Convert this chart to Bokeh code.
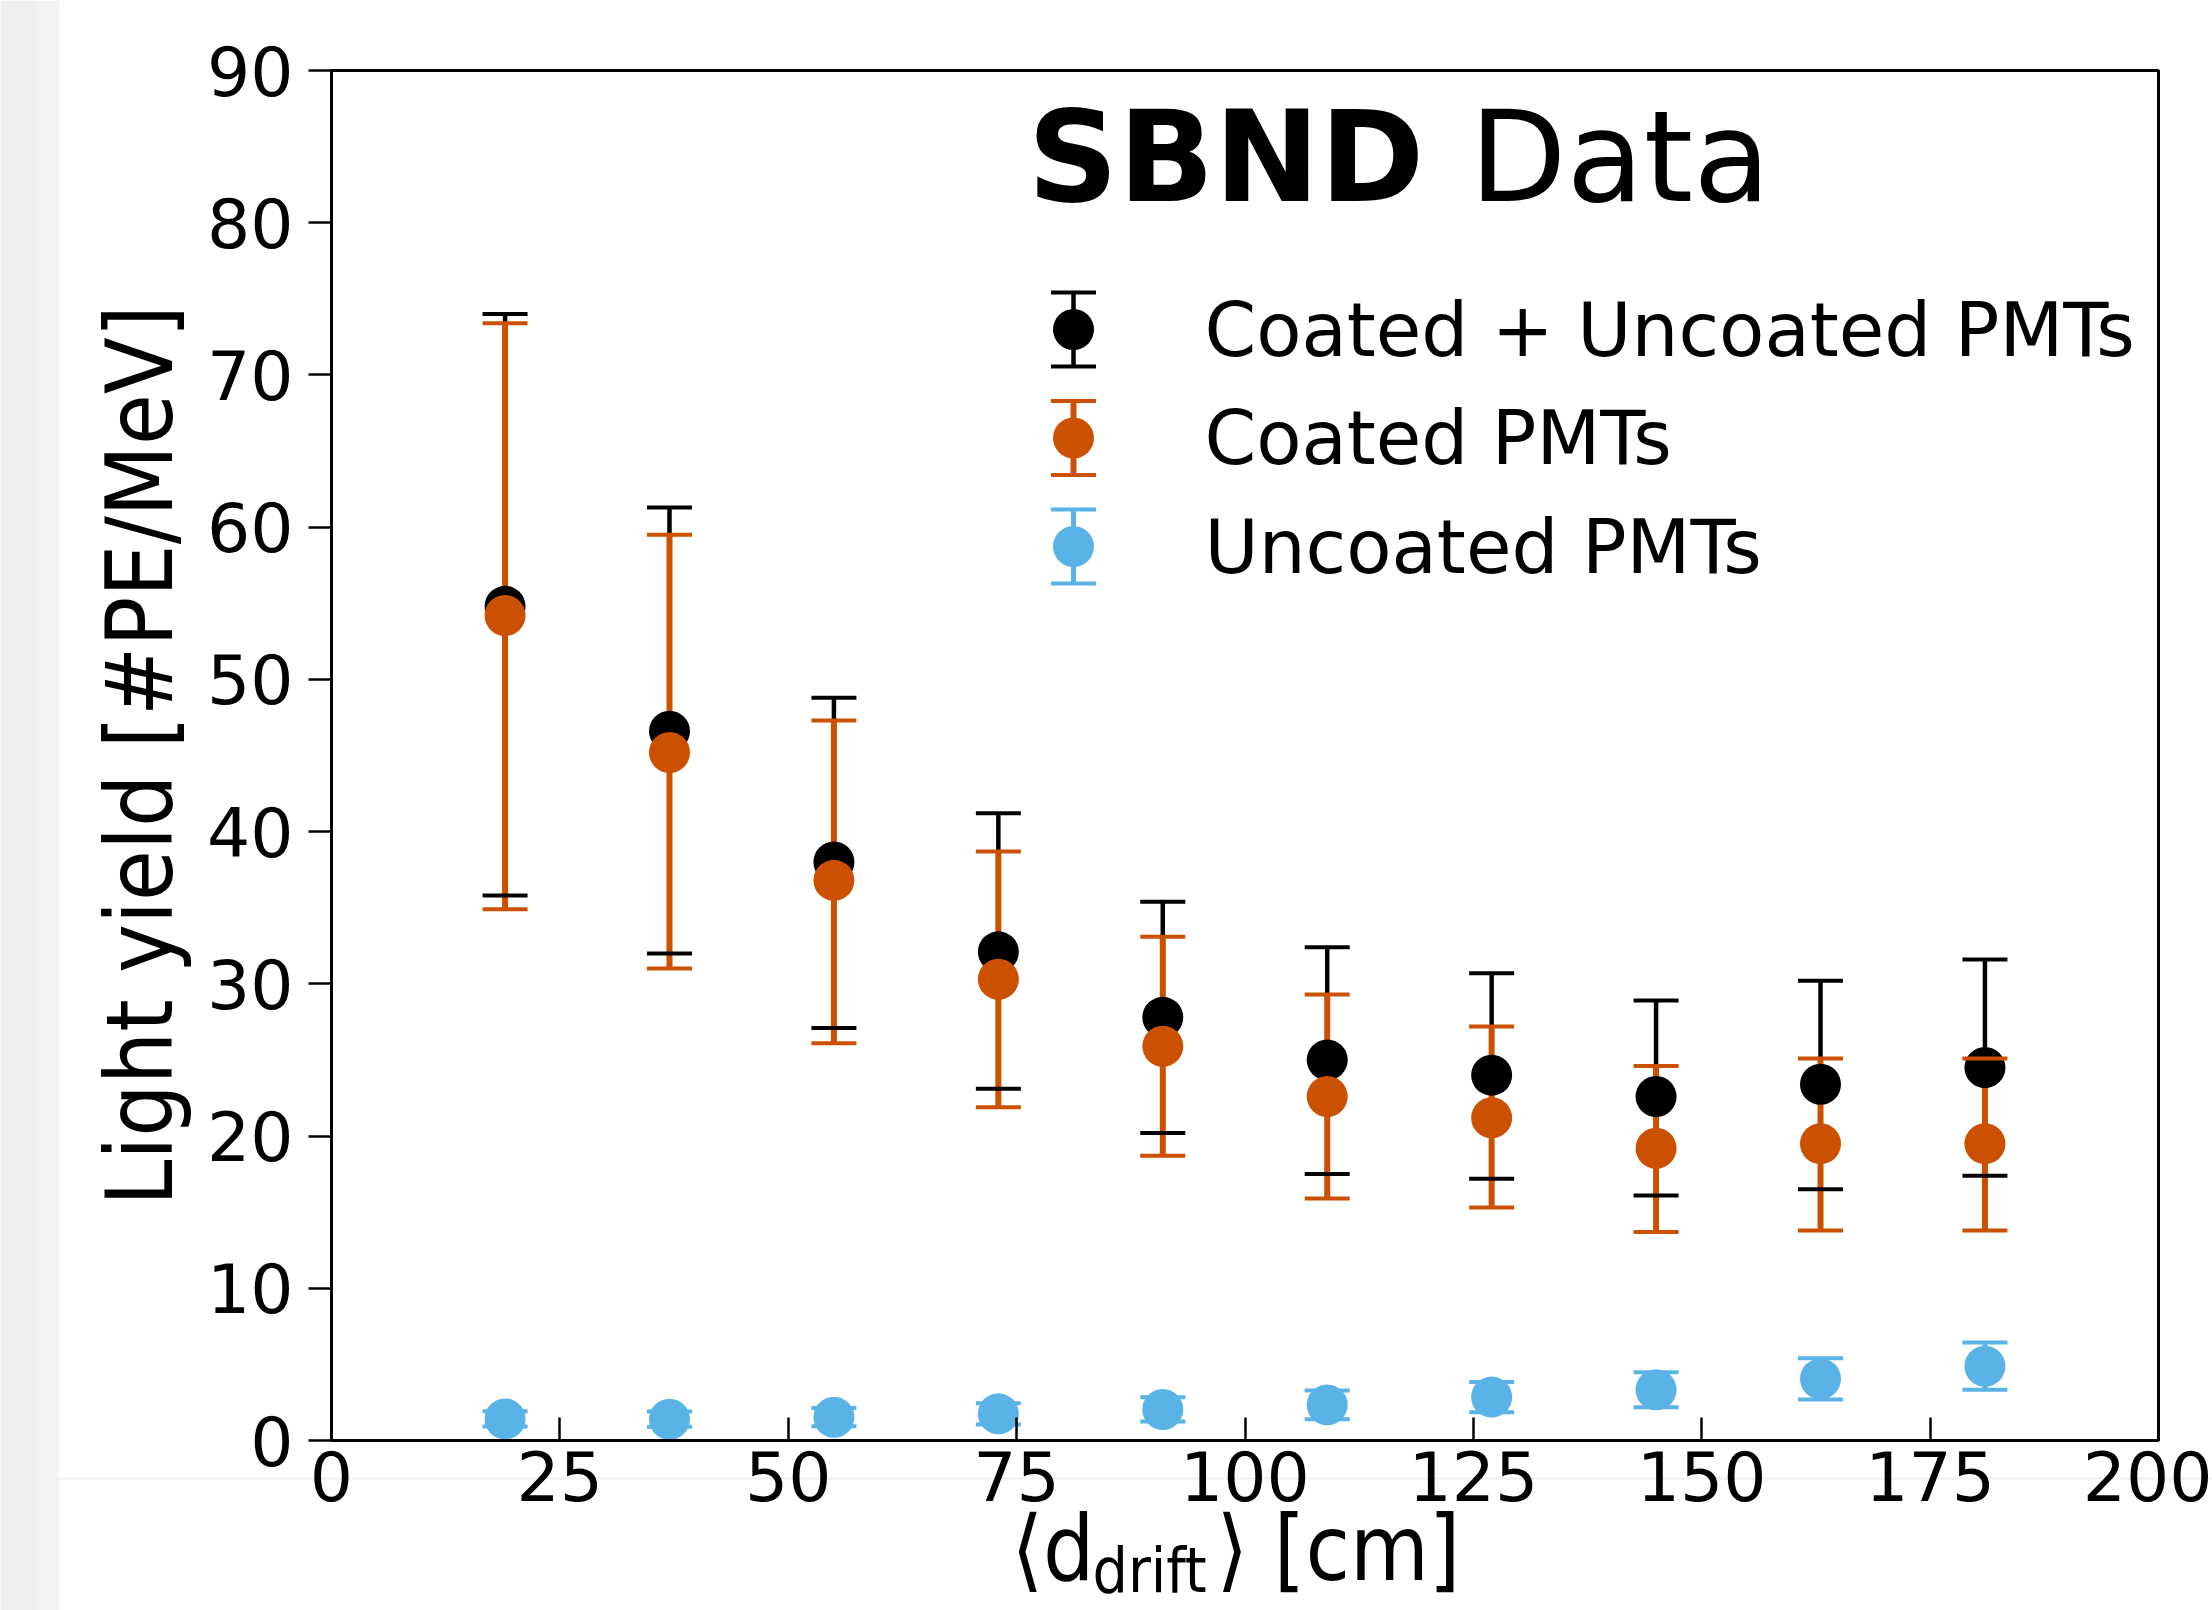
from bokeh.plotting import figure
from bokeh.models import Range1d, Label, BoxAnnotation, FixedTicker, ColumnDataSource
from bokeh.embed import file_html
from bokeh.resources import INLINE

# ---------------- data ----------------
drift_cm = [19, 37, 55, 73, 91, 109, 127, 145, 163, 181]

all_ly = [54.8, 46.6, 38.0, 32.1, 27.8, 25.0, 24.0, 22.6, 23.4, 24.5]
all_hi = [74.0, 61.3, 48.8, 41.2, 35.4, 32.4, 30.7, 28.9, 30.2, 31.6]
all_lo = [35.8, 32.0, 27.1, 23.1, 20.2, 17.5, 17.2, 16.1, 16.5, 17.4]

coated_ly = [54.2, 45.2, 36.8, 30.3, 25.9, 22.6, 21.2, 19.2, 19.5, 19.5]
coated_hi = [73.4, 59.5, 47.3, 38.7, 33.1, 29.3, 27.2, 24.6, 25.1, 25.1]
coated_lo = [34.9, 31.0, 26.1, 21.9, 18.7, 15.9, 15.3, 13.7, 13.8, 13.8]

uncoated_ly = [1.42, 1.40, 1.53, 1.75, 2.04, 2.34, 2.85, 3.33, 4.05, 4.88]
uncoated_err = [0.5, 0.5, 0.6, 0.7, 0.8, 0.95, 1.0, 1.15, 1.35, 1.55]

legend_labels = ["Coated + Uncoated PMTs", "Coated PMTs", "Uncoated PMTs"]
x_ticks = [0, 25, 50, 75, 100, 125, 150, 175, 200]
y_ticks = [0, 10, 20, 30, 40, 50, 60, 70, 80, 90]
X_MIN, X_MAX = 0, 200
Y_MIN, Y_MAX = 0, 90

# ---------------- layout / styles ----------------
BLACK = "#000000"
ORANGE = "#CB5000"
BLUE = "#5AB3E6"
FONT = "DejaVu Sans"
COND = "DejaVu Sans Condensed"

W, H = 2212, 1610
FL, FR, FT, FB = 331, 2158, 70, 1440   # plot box edges in page px
BASE_SHIFT = 0.38                      # svg alphabetic-baseline correction (em)

def px2x(px):
    return X_MIN + (px - FL) / (FR - FL) * (X_MAX - X_MIN)

def py2y(py):
    return Y_MIN + (FB - py) / (FB - FT) * (Y_MAX - Y_MIN)

p = figure(width=W, height=H, output_backend="svg", toolbar_location=None,
           x_range=Range1d(px2x(0), px2x(W)), y_range=Range1d(py2y(H), py2y(0)),
           min_border_left=0, min_border_right=0, min_border_top=0, min_border_bottom=0)
p.background_fill_color = "white"
p.border_fill_color = "white"
p.grid.visible = False
p.outline_line_color = None

# page decorations (grey strip at the left, faint line near the bottom)
def page_box(l, r, t, b, color):
    p.add_layout(BoxAnnotation(left=px2x(l), right=px2x(r), top=py2y(t), bottom=py2y(b),
                               fill_color=color, fill_alpha=1, line_alpha=0, level="underlay"))

page_box(0, 59, 0, H, "#f3f3f3")
page_box(0, 36, 0, H, "#efefef")
page_box(59, W, 1477, 1479, "#f0f0f0")

# plot box
p.add_layout(BoxAnnotation(left=X_MIN, right=X_MAX, bottom=Y_MIN, top=Y_MAX,
                           fill_alpha=0, line_color="black", line_alpha=1, line_width=3))

# axes, drawn at the plot box edges
for ax in (p.xaxis[0], p.yaxis[0]):
    ax.axis_line_width = 3
    ax.axis_line_color = "black"
    ax.major_tick_line_width = 2.5
    ax.major_tick_line_color = "black"
    ax.minor_tick_line_color = None
    ax.major_label_text_font = FONT
    ax.major_label_text_font_size = "68px"
    ax.major_label_text_color = "black"

p.xaxis.fixed_location = Y_MIN
p.yaxis.fixed_location = X_MIN
p.xaxis.bounds = (X_MIN, X_MAX)
p.yaxis.bounds = (Y_MIN, Y_MAX)
p.xaxis.ticker = FixedTicker(ticks=x_ticks)
p.yaxis.ticker = FixedTicker(ticks=y_ticks)
p.xaxis.major_tick_in = 23
p.xaxis.major_tick_out = 0
p.xaxis.major_label_standoff = 10
p.yaxis.major_tick_in = 0
p.yaxis.major_tick_out = 23
p.yaxis.major_label_standoff = 15

p.yaxis.axis_label = "Light yield [#PE/MeV]"
p.yaxis.axis_label_text_font = COND
p.yaxis.axis_label_text_font_size = "92px"
p.yaxis.axis_label_text_font_style = "normal"
p.yaxis.axis_label_text_color = "black"
p.yaxis.axis_label_standoff = 10

# ---------------- error bars / markers ----------------
src_all = ColumnDataSource(dict(x=drift_cm, y=all_ly, lo=all_lo, hi=all_hi))
src_coat = ColumnDataSource(dict(x=drift_cm, y=coated_ly, lo=coated_lo, hi=coated_hi))
src_unc = ColumnDataSource(dict(
    x=drift_cm, y=uncoated_ly,
    lo=[v - e for v, e in zip(uncoated_ly, uncoated_err)],
    hi=[v + e for v, e in zip(uncoated_ly, uncoated_err)]))

series = [(src_all, BLACK, 4.5), (src_coat, ORANGE, 6), (src_unc, BLUE, 5)]

for src, col, lw in series:
    p.segment(x0="x", y0="lo", x1="x", y1="hi", source=src, line_color=col, line_width=lw)
for src, col, lw in series:
    p.scatter(x="x", y="y", source=src, marker="circle", size=41,
              fill_color=col, line_color=col, line_width=0)
for src, col, lw in series:
    for key in ("lo", "hi"):
        p.scatter(x="x", y=key, source=src, marker="dash", size=45,
                  line_color=col, line_width=4)

# ---------------- text helper ----------------
def text_at(px, baseline_py, txt, size, font=FONT, style="normal"):
    p.add_layout(Label(x=px2x(px), y=py2y(baseline_py - BASE_SHIFT * size), text=txt,
                       text_font=font, text_font_size=f"{size}px", text_font_style=style,
                       text_color="black", text_align="left", text_baseline="alphabetic"))

# ---------------- legend (drawn by hand) ----------------
LEG_X = 1073
LEG_Y0 = 329
LEG_DY = 108.5
LEG_BAR = 37
colors = [BLACK, ORANGE, BLUE]
lwidths = [4.5, 6, 5]
for i, (lab, col) in enumerate(zip(legend_labels, colors)):
    cy = LEG_Y0 + i * LEG_DY
    ls = ColumnDataSource(dict(x=[px2x(LEG_X)], y=[py2y(cy)],
                               lo=[py2y(cy + LEG_BAR)], hi=[py2y(cy - LEG_BAR)]))
    p.segment(x0="x", y0="lo", x1="x", y1="hi", source=ls, line_color=col, line_width=lwidths[i])
    p.scatter(x="x", y="y", source=ls, marker="circle", size=41, fill_color=col, line_color=col, line_width=0)
    for key in ("lo", "hi"):
        p.scatter(x="x", y=key, source=ls, marker="dash", size=45, line_color=col, line_width=4)
    text_at(1204, cy + 28.5, lab, 74)

# ---------------- title ----------------
text_at(1027, 205, "SBND", 126, style="bold")
text_at(1469, 205, "Data", 126)

# ---------------- x axis title ----------------
text_at(1011, 1582, "\u27e8d", 90, font=COND)
text_at(1092, 1594, "drift", 62, font=COND)
text_at(1216, 1582, "\u27e9 [cm]", 90, font=COND)

open("out.html", "w").write(file_html(p, INLINE))
